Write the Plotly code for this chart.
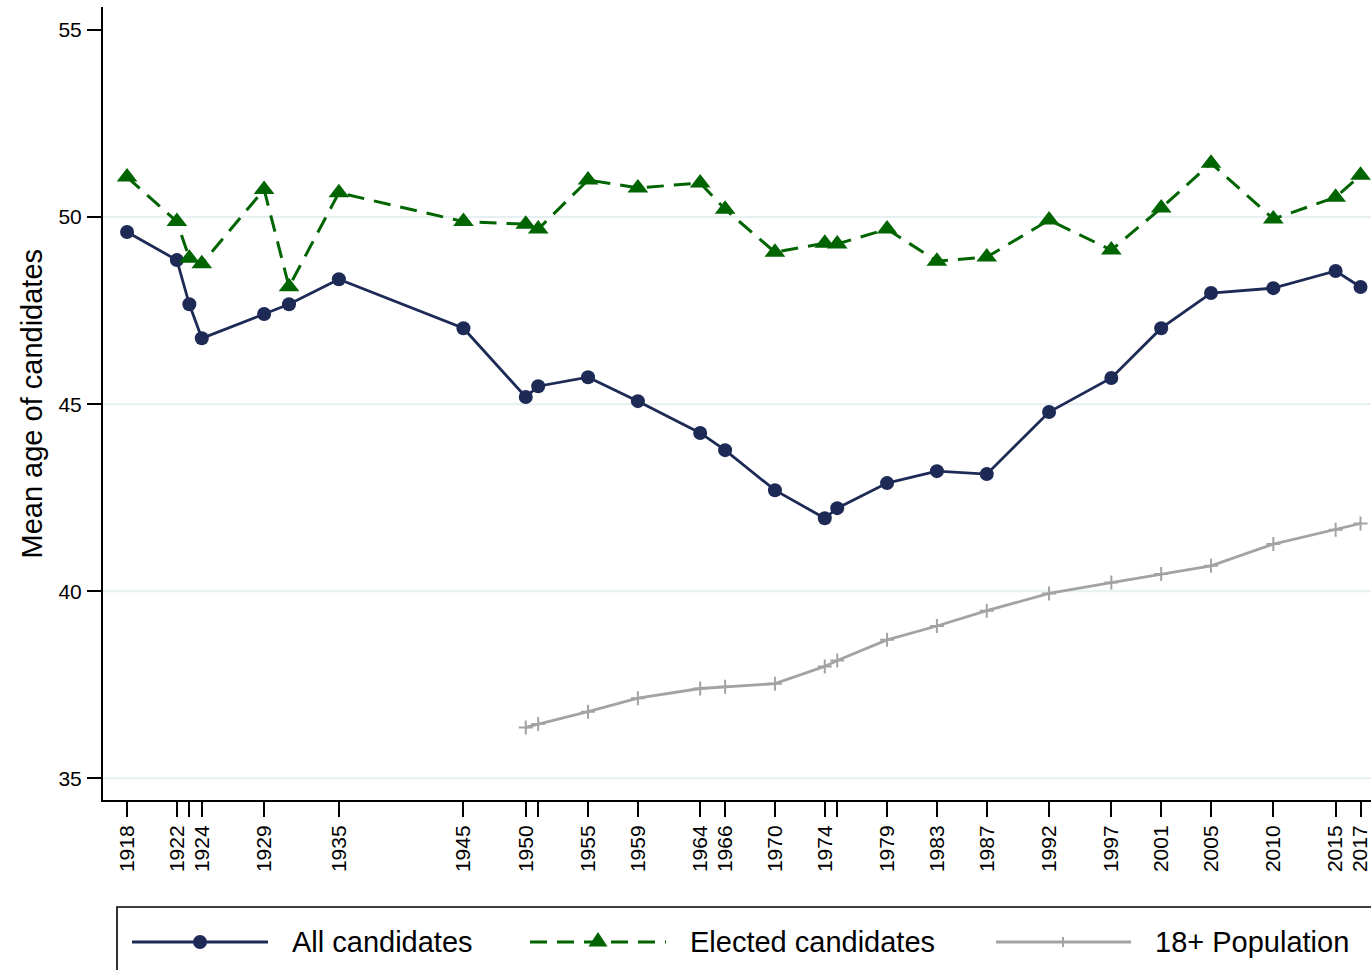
import plotly.graph_objects as go

# ---- data ----
years = [1918, 1922, 1923, 1924, 1929, 1931, 1935, 1945, 1950, 1951, 1955, 1959, 1964, 1966,
         1970, 1974, 1975, 1979, 1983, 1987, 1992, 1997, 2001, 2005, 2010, 2015, 2017]
all_candidates = [49.60, 48.85, 47.67, 46.76, 47.41, 47.67, 48.34, 47.03, 45.19, 45.48, 45.72, 45.08,
                  44.23, 43.77, 42.70, 41.95, 42.22, 42.89, 43.21, 43.13, 44.79, 45.70, 47.03, 47.97,
                  48.10, 48.56, 48.13]
elected_candidates = [51.07, 49.88, 48.90, 48.75, 50.74, 48.14, 50.65, 49.88, 49.81, 49.68, 50.99, 50.78,
                      50.91, 50.21, 49.06, 49.30, 49.28, 49.68, 48.82, 48.93, 49.92, 49.12, 50.24, 51.44,
                      49.95, 50.53, 51.12]
pop_years = [1950, 1951, 1955, 1959, 1964, 1966, 1970, 1974, 1975, 1979, 1983, 1987, 1992, 1997,
             2001, 2005, 2010, 2015, 2017]
population_18 = [36.36, 36.45, 36.78, 37.14, 37.40, 37.45, 37.53, 37.99, 38.15, 38.70, 39.07, 39.48,
                 39.94, 40.23, 40.46, 40.68, 41.26, 41.64, 41.81]

tick_years = [1918, 1922, 1923, 1924, 1929, 1935, 1945, 1950, 1951, 1955, 1959, 1964, 1966, 1970,
              1974, 1975, 1979, 1983, 1987, 1992, 1997, 2001, 2005, 2010, 2015, 2017]
tick_labels = ["1918", "1922", "", "1924", "1929", "1935", "1945", "1950", "", "1955", "1959", "1964",
               "1966", "1970", "1974", "", "1979", "1983", "1987", "1992", "1997", "2001", "2005",
               "2010", "2015", "2017"]
y_ticks = [35, 40, 45, 50, 55]
grid_values = [35, 40, 45, 50]
series_names = ["All candidates", "Elected candidates", "18+ Population"]

NAVY = "#1d2a56"
GREEN = "#006400"
GRAY = "#a3a3a3"
FONT = "Liberation Sans, Arial, sans-serif"

W, H = 1371, 970
ML, MR, MT, MB = 103, 0, 7, 170
PW, PH = W - ML - MR, H - MT - MB


def px(xp):
    return (xp - ML) / PW


def py(yp):
    return (H - MB - yp) / PH


fig = go.Figure()
fig.add_trace(go.Scatter(
    x=pop_years, y=population_18, mode="lines+markers", name=series_names[2],
    line=dict(color=GRAY, width=2.8),
    marker=dict(symbol="cross-thin", size=10, line=dict(color=GRAY, width=2)),
))
fig.add_trace(go.Scatter(
    x=years, y=all_candidates, mode="lines+markers", name=series_names[0],
    line=dict(color=NAVY, width=2.8),
    marker=dict(symbol="circle", size=14, color=NAVY),
))
fig.add_trace(go.Scatter(
    x=years, y=elected_candidates, mode="lines+markers", name=series_names[1],
    line=dict(color=GREEN, width=3, dash="17px,10px"),
    marker=dict(symbol="triangle-up", size=18, color=GREEN),
))

shapes = []
for g in grid_values:
    shapes.append(dict(type="line", xref="paper", yref="y", x0=0, x1=1, y0=g, y1=g,
                       line=dict(color="#e6eff1", width=2), layer="below"))

# legend box
shapes.append(dict(type="rect", xref="paper", yref="paper", x0=px(117), x1=px(1390),
                   y0=py(907), y1=py(990), line=dict(color="black", width=1.6),
                   fillcolor="rgba(0,0,0,0)"))
ly = 942
# item 1
shapes.append(dict(type="line", xref="paper", yref="paper", x0=px(132), x1=px(268), y0=py(ly), y1=py(ly),
                   line=dict(color=NAVY, width=2.8)))
shapes.append(dict(type="circle", xref="paper", yref="paper", xsizemode="pixel", ysizemode="pixel",
                   xanchor=px(200), yanchor=py(ly), x0=-7, x1=7, y0=-7, y1=7,
                   fillcolor=NAVY, line=dict(color=NAVY, width=0)))
# item 2
shapes.append(dict(type="line", xref="paper", yref="paper", x0=px(530), x1=px(666), y0=py(ly), y1=py(ly),
                   line=dict(color=GREEN, width=3, dash="17px,10px")))
shapes.append(dict(type="path", xref="paper", yref="paper", xsizemode="pixel", ysizemode="pixel",
                   xanchor=px(598), yanchor=py(ly), path="M -9.5,-4.5 L 9.5,-4.5 L 0,10 Z",
                   fillcolor=GREEN, line=dict(color=GREEN, width=0)))
# item 3
shapes.append(dict(type="line", xref="paper", yref="paper", x0=px(996), x1=px(1131), y0=py(ly), y1=py(ly),
                   line=dict(color=GRAY, width=2.8)))
shapes.append(dict(type="path", xref="paper", yref="paper", xsizemode="pixel", ysizemode="pixel",
                   xanchor=px(1063), yanchor=py(ly), path="M 0,-5 L 0,5",
                   line=dict(color=GRAY, width=2)))

annotations = [
    dict(text="Mean age of candidates", xref="paper", yref="paper", x=px(31), y=0.5,
         textangle=-90, showarrow=False, xanchor="center", yanchor="middle",
         font=dict(size=29, color="black", family=FONT)),
]
for xpos, name in zip([290, 688, 1153], series_names):
    annotations.append(dict(text=name, xref="paper", yref="paper", x=px(xpos), y=py(ly),
                            showarrow=False, xanchor="left", yanchor="middle",
                            font=dict(size=29, color="black", family=FONT)))

fig.update_layout(
    width=W, height=H,
    margin=dict(l=ML, r=MR, t=MT, b=MB, pad=0),
    paper_bgcolor="white", plot_bgcolor="white",
    showlegend=False,
    font=dict(family=FONT, color="black"),
    shapes=shapes,
    annotations=annotations,
    xaxis=dict(
        range=[1916.07, 2017.84], tickmode="array", tickvals=tick_years, ticktext=tick_labels,
        tickangle=-90, ticks="outside", ticklen=15, tickwidth=2, tickcolor="black",
        showline=True, linecolor="black", linewidth=2, showgrid=False, zeroline=False,
        tickfont=dict(size=21, color="black", family=FONT), ticklabelstandoff=0,
        ticklabeloverflow="allow",
    ),
    yaxis=dict(
        range=[34.42, 55.615], tickmode="array", tickvals=y_ticks,
        ticks="outside", ticklen=14, tickwidth=2, tickcolor="black",
        showline=True, linecolor="black", linewidth=2, showgrid=False, zeroline=False,
        tickfont=dict(size=21, color="black", family=FONT), ticklabelstandoff=1,
    ),
)

fig.write_html("out.html", config={"displayModeBar": False},
               post_script="document.body.style.margin='0';document.body.style.overflow='hidden';")
